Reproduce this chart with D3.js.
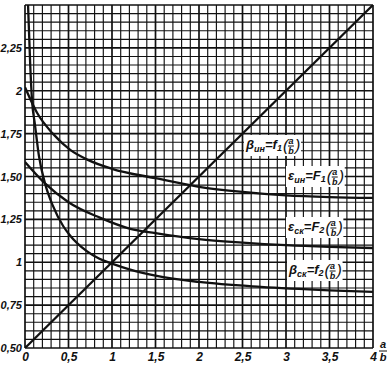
<!DOCTYPE html>
<html>
<head>
<meta charset="utf-8">
<script src="https://cdn.jsdelivr.net/npm/d3@7"></script>
<style>
  body { margin: 0; background: #fff; }
  text { font-family: "Liberation Sans Narrow", "Liberation Sans", sans-serif; font-style: italic; fill: #111; }
</style>
</head>
<body>
<div id="chart"></div>
<script>
// tick values and labels
const xTickVals = [0, 0.5, 1, 1.5, 2, 2.5, 3, 3.5, 4];
const xTickLabels = ["0", "0,5", "1", "1,5", "2", "2,5", "3", "3,5", "4"];
const yTickVals = [0.5, 0.75, 1, 1.25, 1.5, 1.75, 2, 2.25];
const yTickLabels = ["0,50", "0,75", "1", "1,25", "1,50", "1,75", "2", "2,25"];

// curves: [a/b, value]
const betaIn = [[0, 0.5], [4, 2.5]];
const epsIn = [[0, 2.02], [0.14, 1.87], [0.32, 1.75], [0.52, 1.655], [0.71, 1.6], [1.0, 1.545],
  [1.5, 1.49], [2.0, 1.44], [2.5, 1.41], [3.0, 1.39], [3.5, 1.38], [4, 1.375]];
const epsSk = [[0, 1.585], [0.23, 1.46], [0.5, 1.35], [0.86, 1.26], [1.21, 1.195], [1.5, 1.17],
  [2.0, 1.135], [2.5, 1.115], [3.0, 1.1], [3.5, 1.09], [4, 1.083]];
const betaSk = [[0.035, 2.5], [0.06, 2.15], [0.08, 1.95], [0.115, 1.8], [0.16, 1.62], [0.23, 1.46],
  [0.32, 1.33], [0.44, 1.21], [0.52, 1.155], [0.71, 1.065], [0.85, 1.022], [1.0, 0.992],
  [1.21, 0.957], [1.5, 0.922], [2.0, 0.885], [2.71, 0.856], [3.5, 0.836], [4, 0.827]];

const width = 390, height = 367;
const margin = { left: 25, right: 17, top: 5, bottom: 19 };

const svg = d3.select("#chart").append("svg")
  .attr("width", width).attr("height", height);

const x = d3.scaleLinear().domain([0, 4]).range([margin.left, width - margin.right]);
const y = d3.scaleLinear().domain([0.5, 2.5]).range([height - margin.bottom, margin.top]);

/* grid */
const grid = svg.append("g");
grid.selectAll("line.v").data(d3.range(0, 41).map(i => i / 10)).join("line")
  .attr("x1", d => x(d)).attr("x2", d => x(d))
  .attr("y1", y(0.5)).attr("y2", y(2.5))
  .attr("stroke", "#111")
  .attr("stroke-width", (d, i) => i % 5 === 0 ? 1.7 : 1.15);
grid.selectAll("line.h").data(d3.range(0, 41).map(i => 0.5 + i / 20)).join("line")
  .attr("y1", d => y(d)).attr("y2", d => y(d))
  .attr("x1", x(0)).attr("x2", x(4))
  .attr("stroke", "#111")
  .attr("stroke-width", (d, i) => i % 5 === 0 ? 1.7 : 1.15);

/* axes labels */
const xAxis = d3.axisBottom(x).tickValues(xTickVals)
  .tickFormat((d, i) => xTickLabels[i]).tickSize(0).tickPadding(4);
const xg = svg.append("g").attr("transform", `translate(0,${y(0.5)})`).call(xAxis);
xg.select(".domain").remove();
xg.selectAll("text").attr("font-size", 12).attr("font-weight", "bold")
  .attr("font-family", null).attr("fill", null);

const yAxis = d3.axisLeft(y).tickValues(yTickVals)
  .tickFormat((d, i) => yTickLabels[i]).tickSize(0).tickPadding(3);
const yg = svg.append("g").attr("transform", `translate(${x(0)},0)`).call(yAxis);
yg.select(".domain").remove();
yg.selectAll("text").attr("font-size", 11).attr("font-weight", "bold")
  .attr("font-family", null).attr("fill", null);

// a/b fraction at end of x axis
const fr = svg.append("g").attr("transform", `translate(${x(4) + 10},${y(0.5) + 2})`);
fr.append("text").attr("text-anchor", "middle").attr("y", -2).attr("font-size", 11).attr("font-weight", "bold").text("a");
fr.append("line").attr("x1", -4).attr("x2", 4).attr("y1", 1).attr("y2", 1).attr("stroke", "#111");
fr.append("text").attr("text-anchor", "middle").attr("y", 11).attr("font-size", 11).attr("font-weight", "bold").text("b");

/* curves */
const line = d3.line().x(d => x(d[0])).y(d => y(d[1])).curve(d3.curveMonotoneX);
svg.append("clipPath").attr("id", "plot").append("rect")
  .attr("x", x(0)).attr("y", y(2.5)).attr("width", x(4) - x(0)).attr("height", y(0.5) - y(2.5));
svg.append("g").attr("clip-path", "url(#plot)")
  .selectAll("path").data([betaIn, epsIn, epsSk, betaSk]).join("path")
  .attr("d", line).attr("fill", "none").attr("stroke", "#111").attr("stroke-width", 2.3);

/* curve labels */
function curveLabel(px, py, greek, sub, fn, idx) {
  const g = svg.append("g").attr("transform", `translate(${px},${py})`);
  const bg = g.append("rect").attr("fill", "#fff");
  const t = g.append("text").attr("font-size", 13).attr("font-weight", "bold");
  t.append("tspan").text(greek);
  t.append("tspan").attr("font-size", 9).attr("dy", 3).text(sub);
  t.append("tspan").attr("dy", -3).text("=" + fn);
  t.append("tspan").attr("font-size", 9).attr("dy", 2).text(idx);
  const w = t.node().getComputedTextLength();
  g.append("text").attr("x", w + 1).attr("y", 2).attr("font-size", 16).attr("font-style", "normal").text("(");
  g.append("text").attr("x", w + 9).attr("y", -5).attr("font-size", 9).attr("font-weight", "bold").attr("text-anchor", "middle").text("a");
  g.append("line").attr("x1", w + 6).attr("x2", w + 12).attr("y1", -3).attr("y2", -3).attr("stroke", "#111");
  g.append("text").attr("x", w + 9).attr("y", 5).attr("font-size", 9).attr("font-weight", "bold").attr("text-anchor", "middle").text("b");
  g.append("text").attr("x", w + 13).attr("y", 2).attr("font-size", 16).attr("font-style", "normal").text(")");
  bg.attr("x", -2).attr("y", -14).attr("width", w + 21).attr("height", 21);
}
curveLabel(246, 149, "β", "ин", "f", "1");
curveLabel(288, 180, "ε", "ин", "F", "1");
curveLabel(288, 231, "ε", "ск", "F", "2");
curveLabel(289, 274, "β", "ск", "f", "2");
</script>
</body>
</html>
